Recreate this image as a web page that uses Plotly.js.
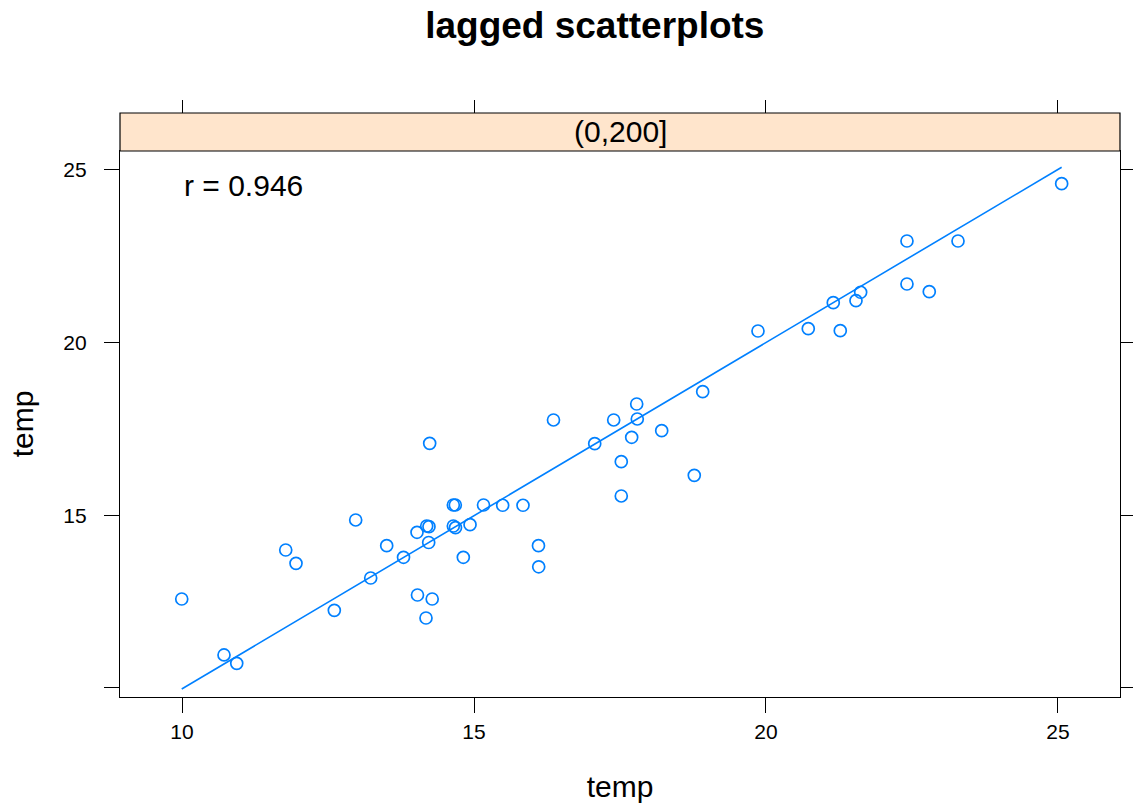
<!DOCTYPE html>
<html>
<head>
<meta charset="utf-8">
<script src="https://cdn.plot.ly/plotly-3.0.1.min.js"></script>
<style>html,body{margin:0;padding:0;background:#fff;}#chart{width:1133px;height:805px;}</style>
</head>
<body>
<div id="chart"></div>
<script>
// lagged temperature values: x = temp (lag), y = temp
const lagX = [9.995, 10.719, 10.937, 11.776, 11.952, 12.608, 12.974, 13.231, 13.505, 13.793,
  14.024, 14.032, 14.178, 14.190, 14.229, 14.224, 14.241, 14.284, 14.646, 14.680,
  14.646, 14.683, 14.932, 14.817, 15.163, 15.491, 15.839, 16.104, 16.108, 16.361,
  17.067, 17.392, 17.522, 17.522, 17.700, 17.786, 17.796, 18.214, 18.772, 18.916,
  19.863, 20.724, 21.152, 21.272, 21.541, 21.621, 22.414, 22.414, 22.796, 23.288, 25.063];
const lagY = [12.577, 10.956, 10.715, 13.996, 13.611, 12.250, 14.865, 13.185, 14.121, 13.785,
  14.509, 12.693, 12.027, 14.691, 14.671, 14.213, 17.086, 12.577, 15.299, 15.299,
  14.691, 14.642, 14.729, 13.785, 15.299, 15.291, 15.291, 14.121, 13.510, 17.761,
  17.074, 17.761, 16.553, 15.560, 17.260, 18.224, 17.790, 17.451, 16.159, 18.580,
  20.338, 20.405, 21.158, 20.347, 21.215, 21.459, 22.944, 21.699, 21.476, 22.944, 24.604];
// fitted line values at the ends of the data range
const fitY = [9.97, 25.08];
const tickVals = [10, 15, 20, 25];
const xTickText = ["10", "15", "20", "25"];
const yTickText = ["", "15", "20", "25"];
const stripLabel = "(0,200]";
const corrLabel = "r = 0.946";

const fitX = [Math.min(...lagX), Math.max(...lagX)];

const col = "#0080ff";
const font = "Liberation Sans, Arial, Helvetica, sans-serif";
const xr = [8.938, 26.062];
const yr = [9.739, 25.55];
const ydom = 546 / 584;

const traces = [
  {x: lagX, y: lagY, type: "scatter", mode: "markers",
   marker: {symbol: "circle-open", size: 12, color: col, line: {width: 1.7, color: col}},
   hoverinfo: "x+y"},
  {x: fitX, y: fitY, type: "scatter", mode: "lines", line: {color: col, width: 1.6}},
  {x: [], y: [], xaxis: "x2", yaxis: "y2", type: "scatter"}
];

const layout = {
  width: 1133, height: 805,
  margin: {l: 120, r: 13, t: 113, b: 108},
  paper_bgcolor: "#fff", plot_bgcolor: "#fff",
  showlegend: false,
  font: {family: font, color: "#000", size: 21},
  title: {text: "<b>lagged scatterplots</b>", font: {family: font, size: 37, color: "#000"},
          xref: "container", x: 0.525, xanchor: "center", yref: "container", y: 0.969, yanchor: "middle"},
  xaxis: {range: xr, tickvals: tickVals, ticktext: xTickText, ticks: "outside", ticklen: 15, tickwidth: 1, tickcolor: "#000",
          showline: true, mirror: true, linecolor: "#000", linewidth: 1.2, showgrid: false, zeroline: false,
          ticklabelstandoff: 1,
          tickfont: {size: 21}, title: {text: "temp", font: {size: 30}, standoff: 33}},
  yaxis: {range: yr, domain: [0, ydom], tickvals: tickVals, ticktext: yTickText, ticks: "outside", ticklen: 15, tickwidth: 1, tickcolor: "#000",
          showline: true, mirror: true, linecolor: "#000", linewidth: 1.2, showgrid: false, zeroline: false,
          ticklabelstandoff: 13,
          tickfont: {size: 21}, tickangle: 0, title: {text: "temp", font: {size: 30}, standoff: 20}},
  xaxis2: {range: xr, overlaying: "x", side: "top", anchor: "free", position: 1, tickvals: tickVals,
           ticks: "outside", ticklen: 13, tickwidth: 1, tickcolor: "#000", showticklabels: false,
           showline: false, showgrid: false, zeroline: false},
  yaxis2: {range: yr, overlaying: "y", side: "right", anchor: "x", tickvals: tickVals,
           ticks: "outside", ticklen: 13, tickwidth: 1, tickcolor: "#000", showticklabels: false,
           showline: false, showgrid: false, zeroline: false},
  shapes: [
    {type: "rect", xref: "paper", yref: "paper", x0: 0, x1: 1, y0: ydom, y1: 1,
     fillcolor: "#ffe5cc", line: {color: "#000", width: 1.2}, layer: "above"}
  ],
  annotations: [
    {text: stripLabel, xref: "paper", yref: "paper", x: 0.5, y: (ydom + 1) / 2,
     xanchor: "center", yanchor: "middle", showarrow: false, font: {size: 30, color: "#000"}},
    {text: corrLabel, xref: "x", yref: "y", x: 10, y: 24.54, xanchor: "left", yanchor: "middle",
     showarrow: false, font: {size: 30, color: "#000"}}
  ]
};

Plotly.newPlot("chart", traces, layout, {displayModeBar: false, staticPlot: true});
</script>
</body>
</html>
